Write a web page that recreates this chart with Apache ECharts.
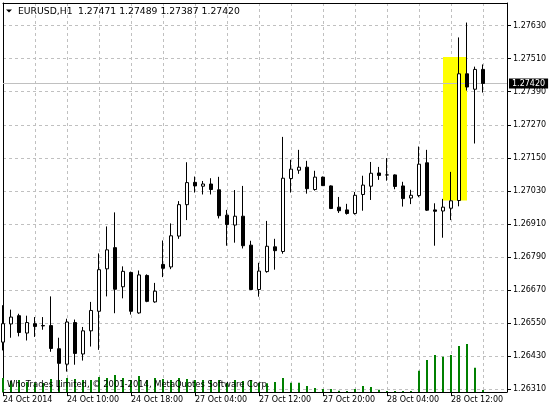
<!DOCTYPE html>
<html><head><meta charset="utf-8">
<script src="https://cdn.jsdelivr.net/npm/echarts@6/dist/echarts.min.js"></script>
<style>html,body{margin:0;padding:0;background:#fff}#c{width:550px;height:410px}</style>
</head><body><div id="c"></div>
<script>
const symbol = "EURUSD,H1";
const firstLabel = "24 Oct 2014";
const sessions = [["24 Oct", 2, 21], ["27 Oct", 0, 23], ["28 Oct", 0, 19]];
const open = [1.26481,1.26547,1.26577,1.26514,1.26548,1.26541,1.26541,1.26457,1.26401,1.26552,
1.26438,1.26522,1.26593,1.26747,1.26824,1.26682,1.26734,1.26587,1.26723,1.26627,
1.26763,1.26754,1.26866,1.26980,1.27061,1.27047,1.27055,1.27034,1.26942,1.26906,
1.26938,1.26833,1.26672,1.26737,1.26827,1.26810,1.27075,1.27105,1.27116,1.27035,
1.27080,1.27048,1.26971,1.26961,1.26948,1.27017,1.27047,1.27095,1.27088,1.27088,
1.27048,1.27004,1.27013,1.27132,1.26961,1.26957,1.26967,1.26995,1.27455,1.27399,
1.27471];
const close = [1.26548,1.26572,1.26516,1.26552,1.26538,1.26540,1.26458,1.26404,1.26554,1.26440,
1.26522,1.26596,1.26744,1.26816,1.26673,1.26738,1.26593,1.26725,1.26629,1.26666,
1.26749,1.26867,1.26980,1.27060,1.27048,1.27055,1.27035,1.26940,1.26908,1.26938,
1.26831,1.26672,1.26739,1.26829,1.26813,1.27076,1.27109,1.27116,1.27038,1.27080,
1.27049,1.26966,1.26958,1.26948,1.27014,1.27051,1.27094,1.27086,1.27088,1.27046,
1.27002,1.27014,1.27127,1.26960,1.26956,1.26971,1.26994,1.27455,1.27407,1.27471,
1.27420];
const high = [1.26615,1.26599,1.26584,1.26577,1.26572,1.26572,1.26647,1.26497,1.26566,1.26563,
1.26536,1.26627,1.26803,1.26901,1.26952,1.26756,1.26737,1.26741,1.26727,1.26696,
1.26850,1.26912,1.26993,1.27134,1.27082,1.27066,1.27076,1.27081,1.26961,1.27033,
1.27048,1.26849,1.26769,1.26921,1.26856,1.27226,1.27143,1.27179,1.27139,1.27103,
1.27082,1.27050,1.27008,1.26983,1.27026,1.27085,1.27135,1.27117,1.27149,1.27090,
1.27063,1.27034,1.27191,1.27179,1.26985,1.27001,1.27099,1.27587,1.27641,1.27481,
1.27489];
const low = [1.26451,1.26497,1.26502,1.26487,1.26500,1.26526,1.26446,1.26304,1.26374,1.26399,
1.26414,1.26465,1.26453,1.26647,1.26586,1.26640,1.26581,1.26584,1.26626,1.26624,
1.26717,1.26746,1.26856,1.26924,1.27024,1.27017,1.27017,1.26930,1.26831,1.26842,
1.26821,1.26670,1.26646,1.26733,1.26744,1.26802,1.27024,1.27092,1.27020,1.27031,
1.27048,1.26964,1.26950,1.26944,1.26944,1.26958,1.26997,1.27070,1.27067,1.27036,
1.26973,1.26982,1.27007,1.26957,1.26831,1.26860,1.26924,1.26974,1.27394,1.27202,
1.27387];
const volume = [1400,1100,1200,1000,900,900,1300,1200,1400,1300,
1200,1200,1500,1400,1700,1400,1200,1600,1200,1400,
1300,1200,1400,1300,1200,1200,1200,1200,900,1200,
1100,1200,900,870,1000,1400,930,930,600,400,
300,300,130,100,300,600,500,230,100,100,
100,100,2130,3200,3700,3530,3700,4600,4800,2430,
200];
const priceTicks = [1.26310,1.26430,1.26550,1.26670,1.26790,1.26910,1.27030,1.27150,1.27270,1.27390,1.27510,1.27630];
const highlight = {from: "28 Oct 11:00", to: "28 Oct 14:00", top: 1.27516, bottom: 1.26995};
const copyright = "WhoTrades Limited, \u00a9 2001-2014, MetaQuotes Software Corp.";

const cats = [];
sessions.forEach(([d, a, b]) => { for (let h = a; h <= b; h++) cats.push(d + ' ' + String(h).padStart(2, '0') + ':00'); });
const candle = open.map((o, i) => [o, close[i], low[i], high[i]]);
const last = open.length - 1;
const header = [open[last], high[last], low[last], close[last]].map(v => v.toFixed(5)).join(' ');
const GRID = '#c0c0c0';
const FONT = '"DejaVu Sans", sans-serif';

const chart = echarts.init(document.getElementById('c'), null, {renderer: 'canvas'});
chart.setOption({
  animation: false,
  backgroundColor: '#fff',
  grid: {left: 3, top: 3, width: 504, height: 389, containLabel: false},
  xAxis: [{
    type: 'category', data: cats, boundaryGap: false, position: 'bottom',
    axisLine: {onZero: false, lineStyle: {color: '#000', width: 1}},
    axisTick: {interval: (i) => i % 8 === 0, length: 4, lineStyle: {color: '#000'}},
    axisLabel: {interval: (i) => i % 8 === 0, align: 'left', margin: 4, color: '#000',
      fontFamily: FONT, fontSize: 8, formatter: (v, i) => i === 0 ? firstLabel : v},
    splitLine: {show: true, interval: (i) => i % 4 === 0 && i > 0, lineStyle: {color: GRID, type: [3, 3]}}
  }, {
    type: 'category', data: cats, boundaryGap: false, position: 'top',
    axisLine: {onZero: false, lineStyle: {color: '#000'}},
    axisTick: {show: false}, axisLabel: {show: false}, splitLine: {show: false}
  }],
  yAxis: [{
    type: 'value', position: 'right', min: 1.26300, max: 1.27712,
    axisLine: {show: true, onZero: false, lineStyle: {color: '#000'}},
    axisTick: {show: true, customValues: priceTicks, length: 4, lineStyle: {color: '#000'}},
    axisLabel: {customValues: priceTicks, formatter: v => v.toFixed(5), margin: 6, color: '#000', fontFamily: FONT, fontSize: 8},
    splitLine: {show: true, lineStyle: {color: GRID, type: [3, 3]}}
  }, {
    type: 'value', position: 'left', min: 0, max: 38900,
    axisLine: {show: true, onZero: false, lineStyle: {color: '#000'}},
    axisTick: {show: false}, axisLabel: {show: false}, splitLine: {show: false}
  }],
  series: [{
    type: 'bar', xAxisIndex: 0, yAxisIndex: 1, data: volume, barWidth: 2,
    itemStyle: {color: '#008000'}, silent: true, z: 2
  }, {
    type: 'candlestick', xAxisIndex: 0, yAxisIndex: 0, data: candle, barWidth: 4, z: 3, silent: true,
    itemStyle: {color: '#ffffff', color0: '#000000', borderColor: '#000000', borderColor0: '#000000', borderWidth: 1},
    markArea: {silent: true, itemStyle: {color: '#ffff00', opacity: 1},
      data: [[{xAxis: highlight.from, yAxis: highlight.top}, {xAxis: highlight.to, yAxis: highlight.bottom}]]},
    markLine: {silent: true, symbol: ['none', 'none'], animation: false, precision: 5, z: 2,
      lineStyle: {color: GRID, type: 'solid', width: 1},
      label: {show: true, position: 'end', distance: 2, formatter: close[last].toFixed(5),
        backgroundColor: '#000', color: '#fff', padding: [1, 3], fontFamily: FONT, fontSize: 8},
      emphasis: {disabled: true},
      data: [{yAxis: close[last]}]}
  }],
  graphic: [
    {type: 'polygon', z: 100, shape: {points: [[6, 9.5], [12, 9.5], [9, 12.5]]}, style: {fill: '#000'}},
    {type: 'text', z: 100, x: 18, y: 11.5, style: {text: symbol, fill: '#000', font: '9.25px "DejaVu Sans"', verticalAlign: 'middle'}},
    {type: 'text', z: 100, x: 78, y: 11.5, style: {text: header, fill: '#000', font: '9.25px "DejaVu Sans"', verticalAlign: 'middle'}},
    {type: 'text', z: 100, x: 7, y: 385, style: {text: copyright, fill: '#000', font: '8.4px "DejaVu Sans"', verticalAlign: 'middle'}}
  ]
});
</script></body></html>
